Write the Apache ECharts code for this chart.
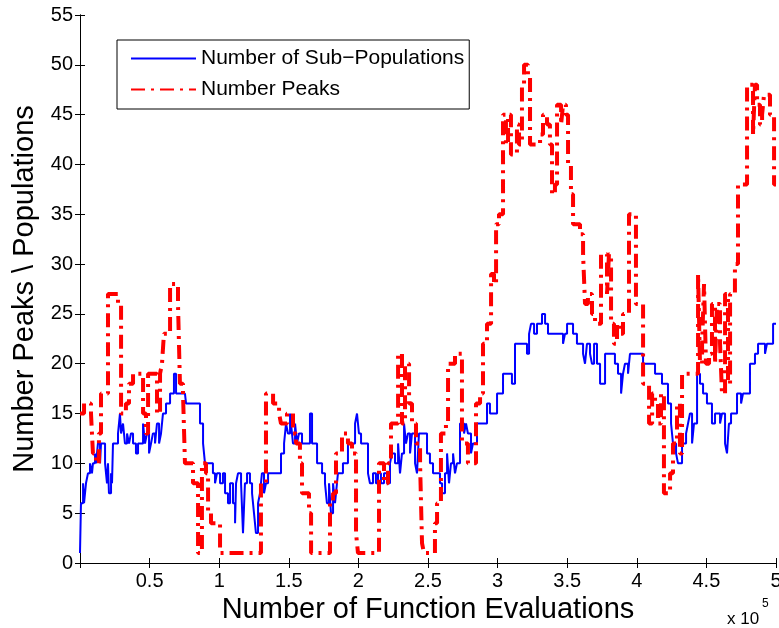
<!DOCTYPE html>
<html>
<head>
<meta charset="utf-8">
<script src="https://cdn.jsdelivr.net/npm/echarts@6/dist/echarts.min.js"></script>
<style>html,body{margin:0;padding:0;background:#fff}#c{width:779px;height:628px}</style>
</head>
<body>
<div id="c"></div>
<script>
// x values in thousands of function evaluations; each value holds until the next x (stairs)
const subPopX = [0,0.7,2.2,2.9,4.3,5.7,7.2,8.6,9.3,10.8,11.5,12.9,14.4,15.1,18.0,19.4,20.1,20.8,22.3,23.0,23.7,27.3,28.7,29.5,30.9,32.3,33.8,35.2,36.6,38.1,40.2,41.7,45.3,46.7,48.1,49.6,51.0,52.4,53.9,55.3,56.8,58.2,59.6,61.8,64.7,67.5,69.0,75.4,76.2,86.2,88.4,89.8,95.5,97.0,98.4,100.6,102.7,104.2,106.3,107.8,109.9,111.4,112.1,113.5,115.7,117.1,118.5,120.0,122.1,123.6,125.0,126.4,127.9,129.3,130.7,132.2,133.6,135.1,144.4,146.6,148.0,149.4,150.9,151.6,153.0,154.5,155.9,157.3,159.5,165.2,166.7,170.3,173.9,176.0,177.4,178.9,180.3,181.8,183.2,184.6,185.3,188.9,192.5,197.6,199.0,200.4,201.9,206.9,208.3,210.5,212.6,214.1,216.2,218.4,220.5,222.7,224.1,226.3,228.5,229.9,231.3,232.8,234.2,235.6,237.1,238.5,240.7,242.1,243.5,249.3,251.4,253.6,258.6,260.1,262.2,263.7,265.1,266.5,268.0,269.4,270.8,273.0,275.9,277.3,278.7,280.9,282.3,285.2,292.4,294.5,299.6,303.9,310.3,312.5,321.1,322.6,324.0,326.2,328.3,331.9,334.1,336.2,347.0,348.4,349.9,354.2,357.0,361.4,362.8,364.2,366.4,367.8,369.3,371.4,373.6,377.2,384.3,386.5,388.7,390.1,391.5,393.7,395.1,404.5,413.1,418.1,422.4,424.6,426.0,428.2,429.6,432.5,435.4,436.8,438.2,439.7,441.1,443.3,445.4,447.6,450.4,454.0,456.2,459.8,461.2,463.4,464.8,466.2,467.7,472.0,474.9,476.3,481.3,484.9,487.1,492.1,493.5,497.9,500];
const subPopY = [1,6,8,6,8,9,10,9,10,11,10,12,10,12,10,8,10,7,9,8,12,13,15,13,14,12,13,12,13,12,11,12,14,12,13,11,12,13,12,14,12,13,15,16,17,19,17,17,16,14,12,10,9,8,9,8,9,7,6,8,6,4,8,9,8,3,8,9,8,7,5,3,6,7,9,7,8,9,11,12,14,13,15,14,12,14,12,13,12,15,12,10,9,8,6,8,5,8,6,8,9,10,12,14,15,13,12,9,8,9,8,9,8,9,8,10,11,10,12,9,11,14,12,13,11,13,10,9,13,11,10,9,8,7,9,11,8,10,11,9,10,14,13,14,13,11,12,14,16,15,17,19,18,22,21,23,24,23,24,25,24,23,22,23,24,23,22,21,20,22,21,20,22,20,18,21,20,19,17,19,20,19,21,20,19,18,16,14,12,11,10,12,13,14,15,12,14,19,18,17,16,14,15,14,15,12,11,14,15,17,16,17,20,21,22,21,22,24,24];

const peaksX = [0,2.9,7.9,9.3,11.5,13.6,15.1,20.1,27.3,29.5,33.0,35.2,38.1,45.3,47.4,48.9,55.3,57.5,58.9,60.3,64.7,70.4,71.8,74.0,75.4,81.2,84.8,87.6,90.5,92.0,94.1,100.6,130.0,133.6,138.7,143.0,144.4,148.7,153.0,155.2,158.0,159.5,164.5,166.0,179.6,181.8,183.9,188.2,192.5,195.4,198.3,199.7,214.8,218.4,221.3,223.4,228.5,231.3,233.5,236.4,238.5,241.4,244.3,245.7,247.1,255.0,256.5,259.3,262.9,264.4,269.4,274.4,278.7,284.5,287.4,289.5,292.4,295.3,297.4,298.9,301.0,303.9,306.0,307.5,309.6,313.9,315.4,317.5,319.0,321.8,323.3,330.5,332.6,335.5,337.6,339.1,341.2,342.7,345.6,347.0,349.1,350.6,352.7,354.2,359.2,361.4,362.8,364.9,367.8,370.0,374.3,378.6,380.0,381.5,383.6,385.8,387.9,390.1,394.4,399.4,404.5,408.8,411.0,413.1,415.2,417.4,419.5,423.9,426.0,428.9,431.0,432.5,444.0,445.4,446.9,448.3,449.7,451.9,454.0,456.2,457.6,459.8,461.2,463.4,465.5,467.0,470.5,472.7,479.2,483.5,484.9,486.4,488.5,490.0,491.4,495.7,498.6,500];
const peaksY = [15,16,15,11,10,13,17,27,26,15,16,18,19,15,13,19,15,19,20,23,28,26,18,17,10,8,1,10,9,5,4,1,8,17,16,15,14,15,13,12,10,7,5,1,6,7,11,13,12,11,3,1,10,8,10,14,21,14,20,16,14,12,10,2,1,4,6,13,14,20,21,12,10,16,17,22,24,29,28,34,35,45,42,45,41,44,42,48,50,49,42,43,45,44,42,37,38,46,44,46,45,40,37,34,33,31,26,27,25,24,31,27,31,24,22,24,23,25,35,26,18,14,17,16,14,17,7,9,12,16,11,19,29,20,22,28,20,21,26,20,26,22,17,27,18,27,30,38,48,43,48,46,44,45,47,45,38,38];

const xTicks = {50:'0.5',100:'1',150:'1.5',200:'2',250:'2.5',300:'3',350:'3.5',400:'4',450:'4.5',500:'5'};
const seriesNames = ['Number of Sub\u2212Populations', 'Number Peaks'];

const FONT = '"Liberation Sans", Arial, Helvetica, sans-serif';
const zip = (xs, ys) => xs.map((x, i) => [x, ys[i]]);

const chart = echarts.init(document.getElementById('c'), null, {renderer: 'canvas'});
const baseAxis = {
  axisLine: {show: true, lineStyle: {color: '#000', width: 1}},
  axisTick: {show: true, inside: true, length: 5, lineStyle: {color: '#000'}},
  splitLine: {show: false}
};
chart.setOption({
  animation: false,
  backgroundColor: '#fff',
  grid: {left: 80, right: 3, top: 15, bottom: 65, containLabel: false, outerBoundsMode: 'none'},
  legend: {
    show: true,
    orient: 'vertical',
    left: 117, top: 40,
    backgroundColor: '#fff',
    borderColor: '#000', borderWidth: 1, borderRadius: 0,
    padding: [8, 5, 9, 13],
    itemWidth: 65, itemHeight: 20, itemGap: 10,
    itemStyle: {opacity: 0},
    textStyle: {fontFamily: FONT, fontSize: 21, color: '#000'},
    data: seriesNames
  },
  xAxis: [
    Object.assign({}, baseAxis, {
      type: 'value', min: 0, max: 500, interval: 50, position: 'bottom',
      axisLabel: {fontFamily: FONT, fontSize: 20, color: '#000', margin: 8,
        formatter: v => xTicks[v] || ''},
      name: 'Number of Function Evaluations',
      nameLocation: 'middle', nameGap: 29,
      nameTextStyle: {fontFamily: FONT, fontSize: 29, color: '#000'}
    }),
    Object.assign({}, baseAxis, {
      type: 'value', min: 0, max: 500, interval: 50, position: 'top',
      axisLabel: {show: false}
    })
  ],
  yAxis: [
    Object.assign({}, baseAxis, {
      type: 'value', min: 0, max: 55, interval: 5, position: 'left',
      axisLabel: {fontFamily: FONT, fontSize: 20, color: '#000', margin: 7},
      name: 'Number Peaks \\ Populations',
      nameLocation: 'middle', nameGap: 34,
      nameTextStyle: {fontFamily: FONT, fontSize: 29, color: '#000'}
    }),
    Object.assign({}, baseAxis, {
      type: 'value', min: 0, max: 55, interval: 5, position: 'right',
      axisLabel: {show: false}
    })
  ],
  series: [
    {
      name: seriesNames[0], type: 'line', step: 'end',
      data: zip(subPopX, subPopY),
      symbol: 'none', showSymbol: false,
      lineStyle: {color: '#0000ff', width: 2},
      itemStyle: {color: '#0000ff'},
      z: 2
    },
    {
      name: seriesNames[1], type: 'line', step: 'end',
      data: zip(peaksX, peaksY),
      symbol: 'none', showSymbol: false,
      lineStyle: {color: '#ff0000', width: 4, type: [14, 6, 3, 6]},
      itemStyle: {color: '#ff0000'},
      z: 3
    }
  ],
  graphic: [
    {type: 'text', left: 727, top: 611, style: {text: 'x 10', fontFamily: FONT, fontSize: 17, fill: '#000'}},
    {type: 'text', left: 762, top: 598, style: {text: '5', fontFamily: FONT, fontSize: 12, fill: '#000'}}
  ]
});
</script>
</body>
</html>
